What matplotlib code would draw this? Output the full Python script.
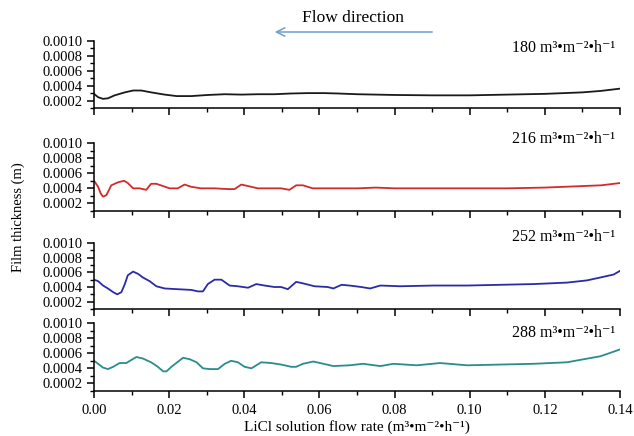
import matplotlib
matplotlib.use("Agg")
import matplotlib.pyplot as plt
from matplotlib.ticker import MultipleLocator, FormatStrFormatter

plt.rcParams['font.family'] = ['Liberation Serif', 'DejaVu Serif']

# 数据
x_180 = [0.0, 0.0011, 0.0024, 0.0037, 0.0055, 0.0082, 0.0104, 0.0126, 0.0152, 0.0188,
         0.022, 0.0259, 0.0303, 0.0348, 0.0392, 0.0436, 0.048, 0.0525, 0.0569, 0.0613,
         0.0649, 0.07, 0.08, 0.09, 0.10, 0.11, 0.12, 0.13, 0.135, 0.14]
y_180 = [0.00029, 0.000245, 0.000223, 0.00023, 0.00027, 0.00031, 0.000335, 0.000335, 0.00031, 0.00028,
         0.00026, 0.00026, 0.000275, 0.000285, 0.00028, 0.000285, 0.000285, 0.000295, 0.0003, 0.0003,
         0.000295, 0.000285, 0.000275, 0.00027, 0.00027, 0.00028, 0.00029, 0.00031, 0.00033, 0.00036]

x_216 = [0.0, 0.0011, 0.0018, 0.0024, 0.0033, 0.0046, 0.0064, 0.008, 0.009, 0.0104, 0.0121,
         0.0139, 0.0152, 0.0166, 0.0184, 0.0201, 0.0223, 0.0241, 0.0259, 0.0285, 0.0321,
         0.0356, 0.0374, 0.0392, 0.041, 0.0436, 0.0472, 0.0498, 0.052, 0.0538, 0.0556,
         0.0582, 0.0622, 0.0658, 0.0702, 0.075, 0.08, 0.09, 0.10, 0.11, 0.12, 0.125,
         0.13, 0.135, 0.14]
y_216 = [0.0005, 0.00042, 0.00033, 0.00029, 0.00031, 0.00044, 0.00048, 0.0005, 0.00047, 0.0004, 0.0004,
         0.00038, 0.00046, 0.00046, 0.00043, 0.0004, 0.0004, 0.00045, 0.00042, 0.0004, 0.0004,
         0.00039, 0.00039, 0.00045, 0.00043, 0.0004, 0.0004, 0.0004, 0.00038, 0.00044, 0.00044,
         0.0004, 0.0004, 0.0004, 0.0004, 0.00041, 0.0004, 0.0004, 0.0004, 0.0004, 0.00041, 0.00042,
         0.00043, 0.00044, 0.00047]

x_252 = [0.0, 0.0011, 0.0024, 0.0037, 0.0051, 0.0062, 0.0073, 0.0082, 0.009, 0.0104,
         0.0117, 0.013, 0.0148, 0.0166, 0.0188, 0.0223, 0.0259, 0.0277, 0.029, 0.0303,
         0.0321, 0.0339, 0.0361, 0.0383, 0.041, 0.0432, 0.0454, 0.048, 0.0498, 0.0516,
         0.0538, 0.0556, 0.0587, 0.0622, 0.0637, 0.0659, 0.068, 0.0711, 0.0735, 0.0762,
         0.0815, 0.0904, 0.0993, 0.1081, 0.117, 0.1259, 0.1312, 0.1348, 0.1383, 0.14]
y_252 = [0.0005, 0.00048, 0.00042, 0.00038, 0.00033, 0.0003, 0.00033, 0.00044, 0.00056, 0.00061,
         0.00058, 0.00053, 0.00048, 0.00041, 0.00038, 0.00037, 0.00036, 0.00034, 0.00034, 0.00044,
         0.0005, 0.0005, 0.00042, 0.00041, 0.00039, 0.00044, 0.00042, 0.0004, 0.0004, 0.00037,
         0.00047, 0.00045, 0.00041, 0.0004, 0.00038, 0.00043, 0.00042, 0.0004, 0.00038, 0.00042,
         0.00041, 0.00042, 0.00042, 0.00043, 0.00044, 0.00046, 0.00049, 0.00053, 0.00057, 0.00062]

x_288 = [0.0, 0.0011, 0.0024, 0.0037, 0.0051, 0.0068, 0.0086, 0.0099, 0.0113, 0.0130,
         0.0152, 0.0170, 0.0184, 0.0193, 0.0206, 0.0219, 0.0237, 0.0255, 0.0273, 0.0290,
         0.0308, 0.0330, 0.0348, 0.0365, 0.0383, 0.0401, 0.0419, 0.0432, 0.0445, 0.0472,
         0.0498, 0.0525, 0.0538, 0.0556, 0.0584, 0.0637, 0.068, 0.0716, 0.0762, 0.0797,
         0.0859, 0.0921, 0.0993, 0.1081, 0.117, 0.1259, 0.1303, 0.1348, 0.14]
y_288 = [0.0005, 0.00046, 0.00041, 0.00039, 0.00042, 0.00047, 0.00047, 0.00051, 0.00055, 0.00053,
         0.00048, 0.00042, 0.00036, 0.00036, 0.00042, 0.00047, 0.00054, 0.00052, 0.00048, 0.0004,
         0.00039, 0.00039, 0.00046, 0.0005, 0.00048, 0.00042, 0.0004, 0.00044, 0.00048, 0.00047,
         0.00045, 0.00042, 0.00042, 0.00046, 0.00049, 0.00043, 0.00044, 0.00046, 0.00043, 0.00046,
         0.00044, 0.00047, 0.00044, 0.00045, 0.00046, 0.00048, 0.00052, 0.00056, 0.00065]

series = [
    ("180", x_180, y_180, '#1a1a1a'),
    ("216", x_216, y_216, '#d42a2a'),
    ("252", x_252, y_252, '#2b2ba8'),
    ("288", x_288, y_288, '#2a8c8c'),
]
unit = 'm³•m⁻²•h⁻¹'

# 每个子图的位置（像素 -> 比例）
W, H = 634, 436
rows = [(41, 108), (143, 211), (243, 309), (323, 391)]
label_y = [48, 139, 237, 333]

fig = plt.figure(figsize=(W / 100, H / 100), dpi=100)

for i, (name, xs, ys, c) in enumerate(series):
    top, bot = rows[i]
    ax = fig.add_axes([94 / W, 1 - bot / H, 526 / W, (bot - top) / H])
    ax.plot(xs, ys, color=c, lw=1.3)
    ax.set_xlim(0, 0.14)
    ax.set_ylim(0.0001, 0.0010)
    ax.spines['top'].set_visible(False)
    ax.spines['right'].set_visible(False)
    for s in ('left', 'bottom'):
        ax.spines[s].set_linewidth(1.1)
    ax.xaxis.set_major_locator(MultipleLocator(0.02))
    ax.xaxis.set_minor_locator(MultipleLocator(0.01))
    ax.yaxis.set_major_locator(MultipleLocator(0.0002))
    ax.yaxis.set_minor_locator(MultipleLocator(0.0001))
    ax.yaxis.set_major_formatter(FormatStrFormatter('%.4f'))
    ax.xaxis.set_major_formatter(FormatStrFormatter('%.2f'))
    ax.tick_params(which='major', direction='out', length=5, width=1.1, labelsize=10.5, pad=3)
    ax.tick_params(which='minor', direction='out', length=3, width=1.0)
    ax.tick_params(axis='x', pad=4)
    if i < 3:
        ax.tick_params(axis='x', labelbottom=False)
    fig.text(615 / W, 1 - label_y[i] / H, name + ' ' + unit,
             ha='right', va='center', fontsize=11.5)

# 流动方向箭头
fig.text(353 / W, 1 - 18 / H, 'Flow direction', ha='center', va='center', fontsize=12.5)
fig.patches.append(matplotlib.patches.FancyArrowPatch(
    (435 / W, 1 - 32 / H), (272 / W, 1 - 32 / H), transform=fig.transFigure,
    arrowstyle='->,head_length=6,head_width=3', color='#6f9fcf', lw=1.1))

fig.text(18 / W, 1 - 217 / H, 'Film thickness (m)', rotation=90, ha='center', va='center', fontsize=10.5)
fig.text(357 / W, 1 - 427 / H, 'LiCl solution flow rate (' + unit + ')',
         ha='center', va='center', fontsize=11)

plt.savefig('out.png', dpi=100)
